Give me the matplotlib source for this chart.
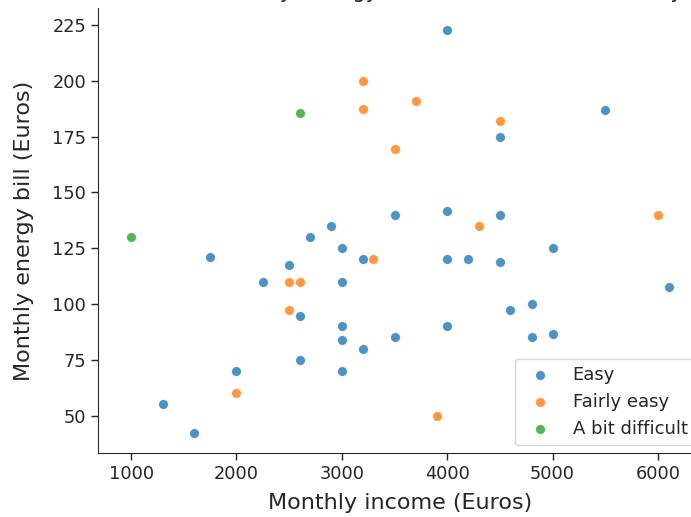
import matplotlib
matplotlib.use("Agg")
import matplotlib.pyplot as plt

# Data
easy_income = [1300, 1600, 1750, 2000, 2250, 2500, 2600, 2600, 2700, 2900,
               3000, 3000, 3000, 3000, 3000, 3200, 3200, 3500, 3500, 4000,
               4000, 4000, 4000, 4200, 4500, 4500, 4500, 4600, 4800, 4800,
               5000, 5000, 5500, 6100]
easy_bill = [55, 42, 121, 70, 110, 117.5, 94.5, 75, 130, 135,
             125, 110, 90, 84, 70, 120, 80, 140, 85, 223,
             141.7, 120, 90, 120, 175, 140, 118.7, 97.2, 100, 85,
             125, 86.5, 187, 107.6]

fairly_income = [2000, 2500, 2500, 2600, 3200, 3200, 3300, 3500, 3700, 3900,
                 4300, 4500, 6000]
fairly_bill = [60, 110, 97.2, 110, 200, 187.6, 120, 169.5, 190.8, 50,
               135, 182, 140]

difficult_income = [1000, 2600]
difficult_bill = [130, 185.6]

groups = ["Easy", "Fairly easy", "A bit difficult"]
colors = ["#1f77b4", "#ff7f0e", "#2ca02c"]

plt.rcParams.update({
    "axes.edgecolor": ".15",
    "xtick.color": ".15",
    "ytick.color": ".15",
    "text.color": ".15",
    "axes.labelcolor": ".15",
})

W, H = 691, 517
fig = plt.figure(figsize=(W / 100, H / 100), dpi=100)
ax = fig.add_axes([98 / W, (H - 453.3) / H, (703 - 98) / W, (453.3 - 8.3) / H])

data = [(easy_income, easy_bill), (fairly_income, fairly_bill),
        (difficult_income, difficult_bill)]
for (xs, ys), lab, c in zip(data, groups, colors):
    ax.scatter(xs, ys, s=52, color=c, alpha=0.8, edgecolors="white",
               linewidths=0.75, label=lab)

ax.set_xlim(686, 6427)
ax.set_ylim(33.1, 232.5)
ax.set_xticks([1000, 2000, 3000, 4000, 5000, 6000])
ax.set_yticks([50, 75, 100, 125, 150, 175, 200, 225])
ax.tick_params(labelsize=12.8, width=1, length=5)
ax.spines["top"].set_visible(False)
ax.spines["right"].set_visible(False)

ax.set_xlabel("Monthly income (Euros)", fontsize=16, labelpad=7)
ax.set_ylabel("Monthly energy bill (Euros)", fontsize=16, labelpad=13)

ax.legend(loc="lower right", fontsize=13, scatterpoints=1,
          borderaxespad=0.45)

fig.text(80 / W, 1 + 2 / H,
         "Income and Monthly  energy bill and the level of difficulty",
         fontsize=15, ha="left", va="baseline")

fig.savefig("out.png", dpi=100)
